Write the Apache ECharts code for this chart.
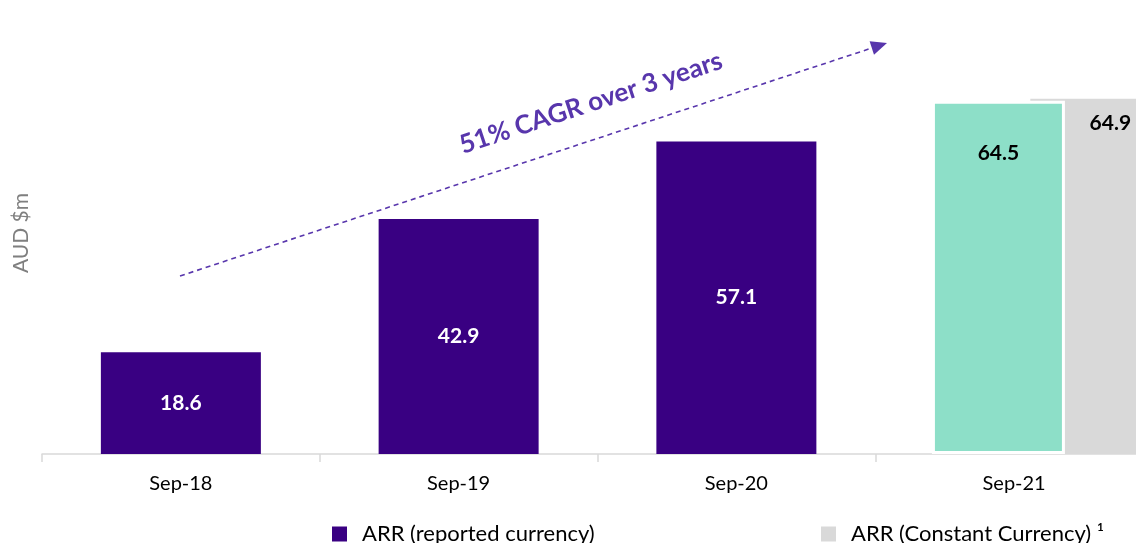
<!DOCTYPE html>
<html><head><meta charset="utf-8">
<script src="https://cdn.jsdelivr.net/npm/echarts@6/dist/echarts.min.js"></script>
<style>html,body{margin:0;padding:0;background:#fff;overflow:hidden}#c{width:1136px;height:543px}</style>
</head><body><div id="c"></div>
<script>
// ---- data ----
const categories = ['Sep-18', 'Sep-19', 'Sep-20', 'Sep-21'];
const reportedValues = [18.6, 42.9, 57.1, null];
const reportedLatest = [null, null, null, 64.5];
const constantCurrency = [null, null, null, 64.9];
const legendNames = ['ARR (reported currency)', 'ARR (Constant Currency) \u00b9'];
const annotationText = '51% CAGR over 3 years';
const axisTitle = 'AUD $m';

// ---- styling ----
const FONT = 'Lato, "Open Sans", sans-serif';
const PURPLE = '#390082';
const TEAL = '#8ddfc8';
const GREY = '#d9d9d9';
const ARROW = '#5836ac';

const chart = echarts.init(document.getElementById('c'), null, {renderer: 'canvas'});

const gridBase = {top: 16, height: 438, width: 1111, outerBoundsMode: 'none', containLabel: false};

// arrow geometry (annotation only)
const a0 = [180, 276], a1 = [887, 43];
const dx = a1[0] - a0[0], dy = a1[1] - a0[1];
const len = Math.sqrt(dx * dx + dy * dy);
const ux = dx / len, uy = dy / len;
const headL = 16, headW = 7;
const bx = a1[0] - headL * ux, by = a1[1] - headL * uy;
const ang = Math.atan2(-dy, dx);

const valueLabel = (extra) => Object.assign({
  show: true, fontWeight: 'bold', fontSize: 21, fontFamily: FONT,
  formatter: p => p.value.toFixed(1)
}, extra);

const option = {
  animation: false,
  backgroundColor: '#fff',
  textStyle: {fontFamily: FONT},
  grid: [
    Object.assign({left: 42}, gridBase),
    Object.assign({left: 89}, gridBase)
  ],
  xAxis: [
    {
      type: 'category', gridIndex: 0, data: categories,
      axisLine: {lineStyle: {color: GREY, width: 1.5}},
      axisTick: {show: true, length: 8, lineStyle: {color: GREY, width: 1.5}},
      axisLabel: {color: '#000', fontSize: 20, margin: 20, fontFamily: FONT}
    },
    {type: 'category', gridIndex: 1, data: categories, show: false}
  ],
  yAxis: [
    {type: 'value', gridIndex: 0, min: 0, max: 80, show: false},
    {type: 'value', gridIndex: 1, min: 0, max: 80, show: false}
  ],
  legend: [
    {
      data: [legendNames[0]], left: 332, top: 523, padding: 0,
      itemWidth: 15, itemHeight: 15, icon: 'rect',
      textStyle: {fontSize: 22, color: '#000', fontFamily: FONT, padding: [0, 0, 0, 10]}
    },
    {
      data: [legendNames[1]], left: 821, top: 523, padding: 0,
      itemWidth: 15, itemHeight: 15, icon: 'rect',
      textStyle: {fontSize: 22, color: '#000', fontFamily: FONT, padding: [0, 0, 0, 10]}
    }
  ],
  series: [
    {
      name: legendNames[0], type: 'bar', xAxisIndex: 0, yAxisIndex: 0,
      data: reportedValues, barWidth: 160,
      itemStyle: {color: PURPLE},
      label: valueLabel({position: 'inside', color: '#fff'})
    },
    {
      name: 'ARR Sep-21', type: 'bar', xAxisIndex: 1, yAxisIndex: 1,
      data: reportedLatest, barWidth: 133, barGap: '-26%', z: 4,
      itemStyle: {color: TEAL, borderColor: '#fff', borderWidth: 3},
      label: valueLabel({position: 'insideTop', distance: 42, color: '#000'})
    },
    {
      name: legendNames[1], type: 'bar', xAxisIndex: 1, yAxisIndex: 1,
      data: constantCurrency, barWidth: 160, barGap: '-26%', z: 2,
      itemStyle: {color: GREY},
      label: valueLabel({position: 'insideTop', distance: 14, color: '#000'})
    }
  ],
  graphic: [
    {
      type: 'text', x: 21, y: 233, rotation: Math.PI / 2,
      style: {text: axisTitle, fill: '#7f7f7f', fontSize: 21, fontFamily: FONT, align: 'center', verticalAlign: 'middle'}
    },
    {
      type: 'line', z: 10,
      shape: {x1: a0[0], y1: a0[1], x2: bx, y2: by},
      style: {stroke: ARROW, lineWidth: 1.6, lineDash: [5, 4]}
    },
    {
      type: 'polygon', z: 10,
      shape: {points: [[a1[0], a1[1]], [bx - headW * uy, by + headW * ux], [bx + headW * uy, by - headW * ux]]},
      style: {fill: ARROW}
    },
    {
      type: 'text', x: 591, y: 103, rotation: ang, z: 10,
      style: {text: annotationText, fill: ARROW, fontSize: 26, fontWeight: 'bold', fontFamily: FONT, align: 'center', verticalAlign: 'middle'}
    }
  ]
};
chart.setOption(option);
</script>
</body></html>
